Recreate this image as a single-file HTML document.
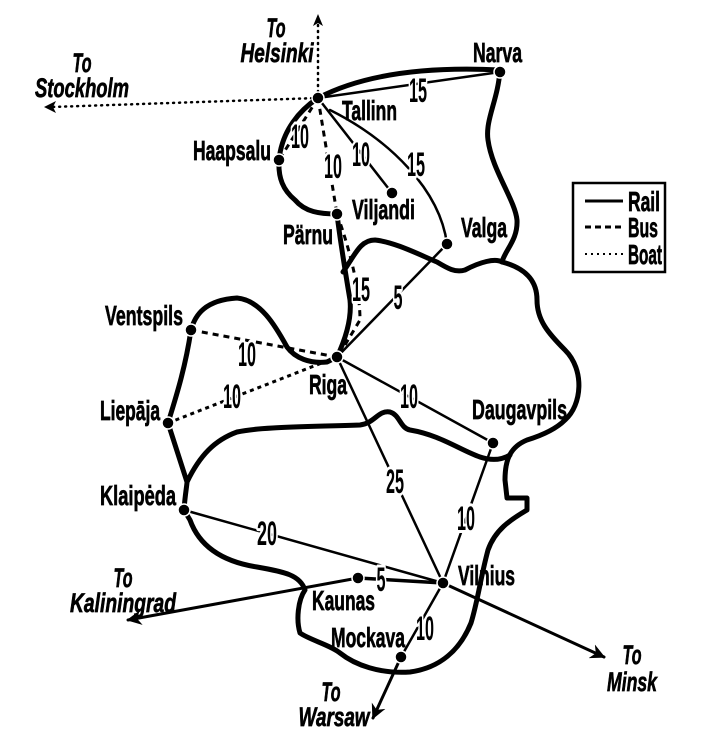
<!DOCTYPE html>
<html><head><meta charset="utf-8"><style>
html,body{margin:0;padding:0;background:#fff;}
svg{display:block;}
text{font-family:"Liberation Sans Narrow","Liberation Sans",sans-serif;font-weight:bold;fill:#000;}
.n{font-size:28px;stroke:#000;stroke-width:0.7px;}
.i{font-size:27px;font-style:italic;stroke:#000;stroke-width:0.7px;}
.d{font-size:34px;stroke:#fff;stroke-width:6px;paint-order:stroke;stroke-linejoin:round;}
</style></head><body>
<svg width="719" height="740" viewBox="0 0 719 740" xmlns="http://www.w3.org/2000/svg">
<defs>
<marker id="ah" viewBox="0 0 10 10" refX="9" refY="5" markerWidth="5" markerHeight="5" orient="auto"><path d="M0,0 L10,5 L0,10 L3,5 Z" fill="#000"/></marker>
</defs>
<g fill="none" stroke="#000" stroke-linecap="round" stroke-linejoin="round">
<path stroke-width="5" d="M318,98 C360,76 420,66 500,70 C498,100 485,120 488,140 C492,170 515,200 517,220 C518,240 505,250 502,262 C525,268 537,280 537,300 C537,320 548,333 565,350 C585,370 582,405 565,420 C555,430 540,436 527,440 C510,447 505,460 505,480 L507,498 L527,498 L527,510 C510,520 495,530 488,550 C480,580 478,600 471,623 C460,650 440,668 410,672 C380,674 355,665 340,653 C330,645 310,640 300,633 C296,620 298,600 305,590 C300,575 285,572 257,567 C225,562 200,548 190,520 L184,510 C185,495 187,485 187,482 L168,423 C175,400 185,370 191,330 C195,315 205,300 237,298 C260,300 275,325 287,347 C295,358 310,364 327,362 L337,357 C345,340 352,320 350,300 C345,270 340,240 337,214 C320,214 305,212 295,200 C283,190 278,178 279,160 C282,130 300,110 318,98 Z"/>
<path stroke-width="5" d="M343,272 C355,255 360,240 375,240 C395,242 420,255 437,262 C447,268 455,273 465,270 C480,262 495,258 502,262"/>
<path stroke-width="5" d="M187,482 C200,455 215,440 237,432 C260,427 300,427 360,425 C375,423 378,410 390,412 C400,415 400,428 410,430 C440,435 460,450 480,457 C495,462 505,458 510,455"/>
<g stroke-width="2.5">
<path d="M318,98 L500,72"/>
<path d="M318,98 L392,193"/>
<path d="M330,110 C390,140 440,190 447,244"/>
<path d="M447,244 L337,357"/>
<path d="M337,357 L493,443"/>
<path d="M337,357 L443,583"/>
<path d="M493,443 L443,583"/>
<path d="M184,510 L443,583"/>
<path d="M358,578 L443,583" stroke-width="3.5"/>
<path d="M443,583 L401,657"/>
<path d="M358,578 L128,620" marker-end="url(#ah)" stroke-width="3"/>
<path d="M443,583 L604,657" marker-end="url(#ah)" stroke-width="3"/>
<path d="M401,657 L373,718" marker-end="url(#ah)" stroke-width="3"/>
</g>
<g stroke-width="3" stroke-dasharray="6 5" stroke-linecap="butt">
<path d="M318,98 L279,160"/>
<path d="M318,98 L337,214"/>
<path d="M337,214 C350,250 360,290 360,320 L342,350"/>
<path d="M191,330 L337,357"/>
<path d="M168,423 L337,357" stroke-dasharray="4 4"/>
</g>
<g stroke-width="2.5" stroke-dasharray="1 5">
<path d="M318,98 L318,22"/>
<path d="M318,98 L52,107"/>
</g>
<path d="M318,14 L313,26 L318,23 L323,26 Z" fill="#000" stroke="none"/>
<path d="M44,107 L56,101 L53,107 L56,113 Z" fill="#000" stroke="none"/>
</g>
<g fill="#000" stroke="#fff" stroke-width="1.5">
<circle cx="318" cy="98" r="6"/><circle cx="500" cy="72" r="6"/><circle cx="279" cy="160" r="6"/>
<circle cx="337" cy="214" r="6"/><circle cx="392" cy="193" r="6"/><circle cx="447" cy="244" r="6"/>
<circle cx="337" cy="357" r="6"/><circle cx="191" cy="330" r="6"/><circle cx="168" cy="423" r="6"/>
<circle cx="493" cy="443" r="6"/><circle cx="184" cy="510" r="6"/><circle cx="443" cy="583" r="6"/>
<circle cx="358" cy="578" r="6"/><circle cx="401" cy="657" r="6"/>
</g>
<g class="d" text-anchor="middle">
<text x="418" y="102" textLength="18" lengthAdjust="spacingAndGlyphs">15</text>
<text x="300" y="148" textLength="18" lengthAdjust="spacingAndGlyphs">10</text>
<text x="333" y="178" textLength="18" lengthAdjust="spacingAndGlyphs">10</text>
<text x="361" y="166" textLength="18" lengthAdjust="spacingAndGlyphs">10</text>
<text x="416" y="176" textLength="18" lengthAdjust="spacingAndGlyphs">15</text>
<text x="361" y="301" textLength="18" lengthAdjust="spacingAndGlyphs">15</text>
<text x="398" y="309" textLength="9" lengthAdjust="spacingAndGlyphs">5</text>
<text x="247" y="366" textLength="18" lengthAdjust="spacingAndGlyphs">10</text>
<text x="232" y="408" textLength="18" lengthAdjust="spacingAndGlyphs">10</text>
<text x="409" y="408" textLength="18" lengthAdjust="spacingAndGlyphs">10</text>
<text x="395" y="493" textLength="18" lengthAdjust="spacingAndGlyphs">25</text>
<text x="466" y="530" textLength="18" lengthAdjust="spacingAndGlyphs">10</text>
<text x="267" y="545" textLength="20" lengthAdjust="spacingAndGlyphs">20</text>
<text x="381" y="591" textLength="9" lengthAdjust="spacingAndGlyphs">5</text>
<text x="425" y="640" textLength="18" lengthAdjust="spacingAndGlyphs">10</text>
</g>
<g class="n">
<text x="473" y="62" textLength="49" lengthAdjust="spacingAndGlyphs">Narva</text>
<text x="342" y="120" textLength="55" lengthAdjust="spacingAndGlyphs">Tallinn</text>
<text x="193" y="160" textLength="78" lengthAdjust="spacingAndGlyphs">Haapsalu</text>
<text x="283" y="244" textLength="50" lengthAdjust="spacingAndGlyphs">Pärnu</text>
<text x="352" y="219" textLength="63" lengthAdjust="spacingAndGlyphs">Viljandi</text>
<text x="461" y="237" textLength="46" lengthAdjust="spacingAndGlyphs">Valga</text>
<text x="105" y="325" textLength="78" lengthAdjust="spacingAndGlyphs">Ventspils</text>
<text x="100" y="420" textLength="60" lengthAdjust="spacingAndGlyphs">Liepāja</text>
<text x="309" y="394" textLength="38" lengthAdjust="spacingAndGlyphs">Riga</text>
<text x="472" y="419" textLength="95" lengthAdjust="spacingAndGlyphs">Daugavpils</text>
<text x="100" y="505" textLength="76" lengthAdjust="spacingAndGlyphs">Klaipėda</text>
<text x="458" y="585" textLength="57" lengthAdjust="spacingAndGlyphs">Vilnius</text>
<text x="312" y="610" textLength="63" lengthAdjust="spacingAndGlyphs">Kaunas</text>
<text x="331" y="647" textLength="74" lengthAdjust="spacingAndGlyphs">Mockava</text>
</g>
<g class="i" text-anchor="middle">
<text x="276" y="37" textLength="19" lengthAdjust="spacingAndGlyphs">To</text>
<text x="277" y="62" textLength="73" lengthAdjust="spacingAndGlyphs">Helsinki</text>
<text x="82" y="72" textLength="19" lengthAdjust="spacingAndGlyphs">To</text>
<text x="82" y="97" textLength="94" lengthAdjust="spacingAndGlyphs">Stockholm</text>
<text x="123" y="587" textLength="19" lengthAdjust="spacingAndGlyphs">To</text>
<text x="123" y="612" textLength="106" lengthAdjust="spacingAndGlyphs">Kaliningrad</text>
<text x="632" y="664" textLength="19" lengthAdjust="spacingAndGlyphs">To</text>
<text x="632" y="691" textLength="50" lengthAdjust="spacingAndGlyphs">Minsk</text>
<text x="331" y="701" textLength="19" lengthAdjust="spacingAndGlyphs">To</text>
<text x="334" y="726" textLength="71" lengthAdjust="spacingAndGlyphs">Warsaw</text>
</g>
<rect x="573" y="183" width="92" height="89" fill="#fff" stroke="#000" stroke-width="2.5"/>
<g stroke="#000">
<line x1="585" y1="201" x2="623" y2="201" stroke-width="3"/>
<line x1="585" y1="227" x2="623" y2="227" stroke-width="3" stroke-dasharray="6 4"/>
<line x1="585" y1="254" x2="623" y2="254" stroke-width="2" stroke-dasharray="2 4"/>
</g>
<g class="n">
<text x="628" y="211" textLength="32" lengthAdjust="spacingAndGlyphs">Rail</text>
<text x="628" y="237" textLength="30" lengthAdjust="spacingAndGlyphs">Bus</text>
<text x="628" y="264" textLength="34" lengthAdjust="spacingAndGlyphs">Boat</text>
</g>
</svg>
</body></html>
